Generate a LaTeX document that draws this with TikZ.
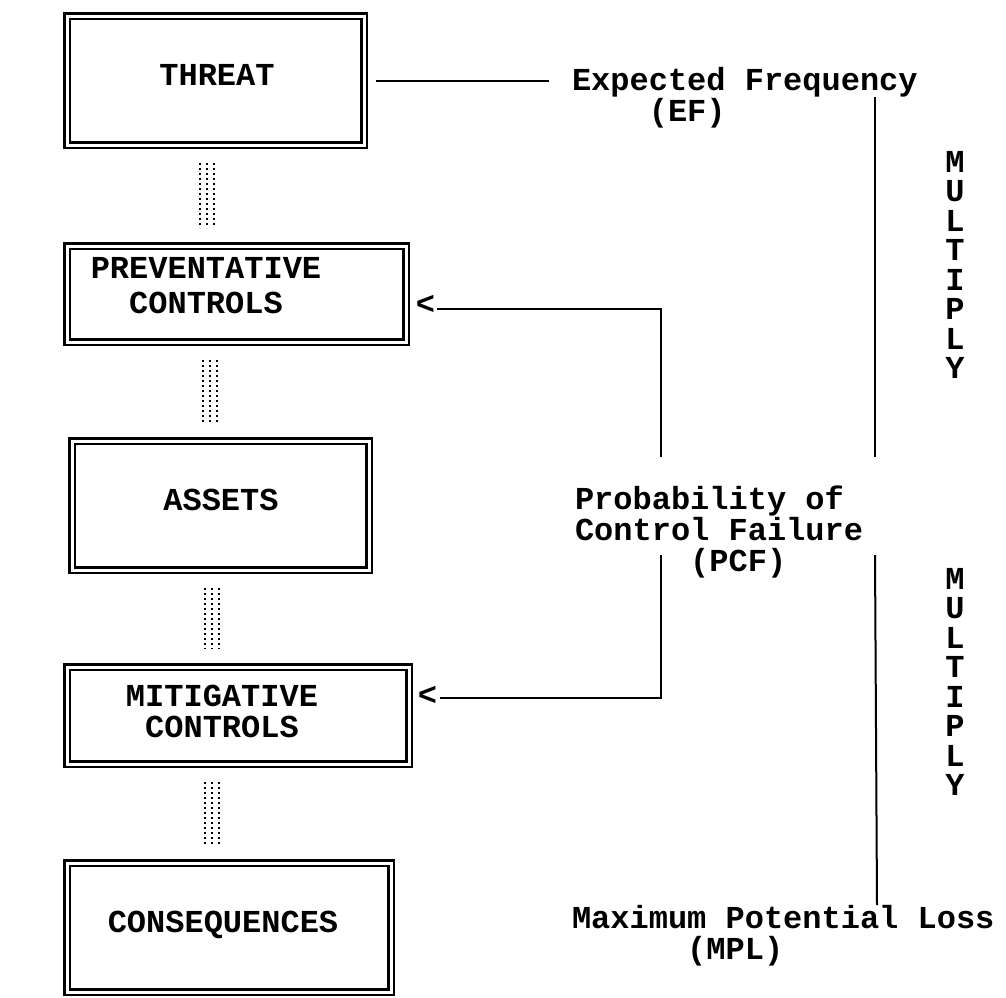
\documentclass[tikz,border=0pt]{standalone}
\usepackage{fontspec}
\setmonofont{Liberation Mono}
\usetikzlibrary{calc}
\begin{document}
\begin{tikzpicture}[x=1pt,y=-1pt,
  box/.style={draw, rectangle, double, line width=2.5pt, double distance=3pt,
              inner sep=0pt, outer sep=0pt},
  lbl/.style={font=\fontsize{32}{31}\selectfont\ttfamily\bfseries,
              inner sep=0pt, outer sep=0pt},
  vword/.style={font=\fontsize{32}{29.5}\selectfont\ttfamily\bfseries,
              inner sep=0pt, outer sep=0pt, align=center, anchor=north},
  conn/.style={line width=2pt},
  dotcol/.style={line width=2pt, dash pattern=on 2pt off 3pt,
                 shorten <=18pt, shorten >=18pt},
]
\useasboundingbox (0,0) rectangle (1006,997);

% chain of double-framed boxes
\node[box, minimum width=297pt, minimum height=129pt] (threat) at (215.5,80.5) {};
\node[box, minimum width=339pt, minimum height=96pt]  (prev)   at (236.5,294) {};
\node[box, minimum width=297pt, minimum height=129pt] (assets) at (220.5,505.5) {};
\node[box, minimum width=342pt, minimum height=97pt]  (mit)    at (238,715.5) {};
\node[box, minimum width=324pt, minimum height=129pt] (cons)   at (229,927.5) {};

% box captions
\node[lbl] (threatT) at (217,75) {THREAT};
\node[lbl, align=center] (prevT) at (206,286) {PREVENTATIVE\\[4pt]CONTROLS};
\node[lbl] (assetsT) at (221,500) {ASSETS};
\node[lbl, align=center] (mitT) at (222,711.5) {MITIGATIVE\\CONTROLS};
\node[lbl] (consT) at (223,925) {CONSEQUENCES};

% dotted links between consecutive boxes
\foreach \a/\b/\xc in {threat/prev/207, prev/assets/210, assets/mit/212, mit/cons/212} {
  \coordinate (dcol) at (\xc,0);
  \foreach \dx in {-7,0,7}
    \draw[dotcol] ($(dcol |- \a.south)+(\dx,0)$) -- ($(dcol |- \b.north)+(\dx,0)$);
}

% factor labels on the right (anchored on the baseline of their last line)
\node[lbl, align=left, anchor=base west] (ef) at (572,121)
  {Expected Frequency\\\hphantom{0000}(EF)};
\node[lbl, align=left, anchor=base west] (pcf) at (575,571)
  {Probability of\\Control Failure\\\hphantom{000000}(PCF)};
\node[lbl, align=left, anchor=base west] (mpl) at (572,959)
  {Maximum Potential Loss\\\hphantom{000000}(MPL)};

\node[vword] (mul1) at (955,151) {M\\U\\L\\T\\I\\P\\L\\Y};
\node[vword] (mul2) at (955,568) {M\\U\\L\\T\\I\\P\\L\\Y};

% threat to expected frequency
\draw[conn, shorten <=12pt, shorten >=23pt] (threat.east) -- (threat.east -| ef.west);

% control failure feeding both control boxes
\node[lbl, anchor=base] (arrA) at (425.5,314) {<};
\node[lbl, anchor=base] (arrB) at (427.5,705) {<};
\coordinate (pcfTL) at (661,457);
\coordinate (kneeA) at (661,309);
\coordinate (pcfBL) at (661,555);
\coordinate (kneeB) at (661,698);
\draw[conn, shorten >=2pt] (pcfTL) -- (kneeA) -- (kneeA -| arrA.east);
\draw[conn, shorten >=3pt] (pcfBL) -- (kneeB) -- (kneeB -| arrB.east);

% multiplication rails
\coordinate (efR)  at (875,97);
\coordinate (pcfTR) at (875,457);
\coordinate (pcfBR) at (875,555);
\coordinate (mplR) at (877,905);
\draw[conn] (efR) -- (pcfTR);
\draw[conn] (pcfBR) -- (mplR);
\end{tikzpicture}
\end{document}
